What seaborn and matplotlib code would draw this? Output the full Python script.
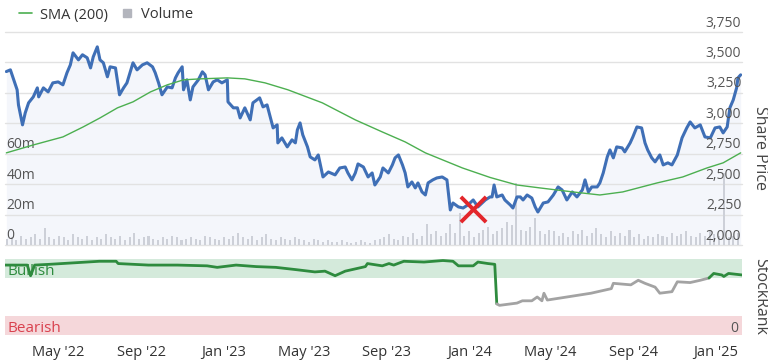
import numpy as np
import pandas as pd
import matplotlib
matplotlib.use("Agg")
import matplotlib.pyplot as plt
import matplotlib.dates as mdates
import matplotlib.transforms as mtransforms
from matplotlib.lines import Line2D
import seaborn as sns

# ---------------- data ----------------
price_dates = [
 "2022-02-13","2022-02-19","2022-02-23","2022-03-01","2022-03-03","2022-03-09","2022-03-13","2022-03-18",
 "2022-03-25","2022-03-31","2022-04-02","2022-04-09","2022-04-16","2022-04-23","2022-05-01","2022-05-08",
 "2022-05-14","2022-05-19","2022-05-23","2022-05-31","2022-06-06","2022-06-13","2022-06-18","2022-06-22",
 "2022-06-28","2022-07-02","2022-07-07","2022-07-13","2022-07-17","2022-07-25","2022-07-31","2022-08-06",
 "2022-08-11","2022-08-16","2022-08-20","2022-08-26","2022-09-03","2022-09-10","2022-09-18","2022-09-22",
 "2022-09-27","2022-10-02","2022-10-10","2022-10-17","2022-10-22","2022-10-26","2022-11-01","2022-11-03",
 "2022-11-08","2022-11-13","2022-11-17","2022-11-25","2022-12-01","2022-12-05","2022-12-10","2022-12-17",
 "2022-12-23","2022-12-30","2023-01-07","2023-01-08","2023-01-16","2023-01-22","2023-01-26","2023-02-02",
 "2023-02-10","2023-02-14","2023-02-24","2023-03-01","2023-03-07","2023-03-12","2023-03-16","2023-03-22",
 "2023-03-23","2023-03-29","2023-04-06","2023-04-13","2023-04-18","2023-04-21","2023-04-25","2023-04-29",
 "2023-05-06","2023-05-10","2023-05-17","2023-05-22","2023-05-29","2023-06-06","2023-06-16","2023-06-23",
 "2023-07-01","2023-07-05","2023-07-11","2023-07-16","2023-07-20","2023-07-28","2023-08-04","2023-08-10",
 "2023-08-14","2023-08-22","2023-08-26","2023-09-03","2023-09-09","2023-09-13","2023-09-18","2023-09-24",
 "2023-09-28","2023-10-02","2023-10-08","2023-10-13","2023-10-17","2023-10-23","2023-10-28","2023-11-01",
 "2023-11-08","2023-11-14","2023-11-22","2023-11-29","2023-12-04","2023-12-08","2023-12-16","2023-12-23",
 "2023-12-30","2024-01-07","2024-01-14","2024-01-25","2024-02-01","2024-02-04","2024-02-07","2024-02-11",
 "2024-02-19","2024-02-23","2024-03-02","2024-03-06","2024-03-12","2024-03-17","2024-03-21","2024-03-27",
 "2024-04-03","2024-04-08","2024-04-12","2024-04-20","2024-04-27","2024-05-05","2024-05-12","2024-05-18",
 "2024-05-25","2024-06-02","2024-06-09","2024-06-17","2024-06-21","2024-06-26","2024-07-01","2024-07-09",
 "2024-07-13","2024-07-18","2024-07-24","2024-07-28","2024-08-02","2024-08-07","2024-08-15","2024-08-19",
 "2024-08-27","2024-08-31","2024-09-06","2024-09-13","2024-09-18","2024-09-22","2024-09-28","2024-10-03",
 "2024-10-10","2024-10-15","2024-10-22","2024-10-28","2024-11-05","2024-11-12","2024-11-19","2024-11-24",
 "2024-12-01","2024-12-09","2024-12-16","2024-12-24","2024-12-31","2025-01-07","2025-01-12","2025-01-18",
 "2025-01-22","2025-01-27","2025-02-01","2025-02-03","2025-02-07"]
price_values = [
 3425,3439,3373,3275,3151,2987,3085,3168,
 3217,3291,3217,3291,3258,3332,3340,3316,
 3415,3480,3579,3521,3563,3538,3455,3546,
 3628,3521,3497,3382,3464,3455,3234,3291,
 3332,3423,3497,3439,3480,3497,3464,3415,
 3332,3234,3299,3291,3373,3415,3464,3275,
 3357,3192,3299,3357,3423,3398,3275,3340,
 3357,3332,3357,3176,3127,3127,3044,3127,
 3028,3168,3209,3135,3151,3044,2962,2987,
 2839,2880,2806,2864,2839,2946,3003,2905,
 2806,2724,2699,2740,2559,2600,2576,2633,
 2641,2592,2535,2592,2666,2641,2559,2592,
 2493,2559,2633,2592,2658,2716,2740,2658,
 2592,2477,2518,2469,2510,2436,2411,2510,
 2535,2551,2559,2535,2288,2345,2313,2304,
 2329,2370,2313,2370,2395,2395,2493,2395,
 2411,2370,2329,2304,2395,2395,2370,2411,
 2386,2313,2271,2345,2354,2411,2477,2452,
 2370,2436,2395,2452,2535,2436,2477,2477,
 2510,2592,2724,2781,2716,2806,2798,2765,
 2839,2888,2970,2962,2839,2781,2716,2683,
 2740,2658,2675,2658,2740,2880,2962,3011,
 2962,2987,2888,2880,2962,2970,2921,2970,
 3127,3192,3291,3373,3398]

sma_dates = ["2022-02-13","2022-03-25","2022-05-08","2022-06-07","2022-07-02","2022-07-28","2022-08-20",
             "2022-09-15","2022-10-10","2022-11-03","2022-11-28","2023-01-07","2023-02-02","2023-03-04",
             "2023-04-07","2023-05-28","2023-07-16","2023-08-25","2023-09-28","2023-10-28","2023-12-22",
             "2024-02-01","2024-03-12","2024-04-15","2024-06-03","2024-07-13","2024-08-16","2024-10-06",
             "2024-11-13","2024-12-19","2025-01-12","2025-02-07"]
sma_values = [2757,2822,2888,2970,3044,3127,3176,3258,3316,3357,3365,3373,3365,3332,3275,3168,3028,2929,
              2847,2757,2633,2555,2493,2469,2436,2411,2436,2510,2559,2633,2675,2757]

vol_start = "2022-02-14"   # weekly volume bars (millions)
vol_values = [
 4,5,3,6,4,5,7,4,11,5,
 4,6,5,3,7,5,4,6,3,5,
 4,7,5,4,6,3,5,8,4,5,
 6,4,3,5,4,6,5,3,4,5,
 4,3,6,5,4,3,5,4,6,8,
 5,4,6,3,5,7,4,3,5,4,
 3,5,4,3,2,4,3,2,3,2,
 2,3,2,1,2,3,2,1,3,4,
 5,7,4,3,6,5,8,4,6,14,
 7,9,6,8,14,8,21,6,9,5,
 8,10,12,7,9,11,15,13,41,10,
 9,12,18,9,7,10,9,6,8,5,
 9,7,10,6,8,11,7,5,9,6,
 8,6,10,5,7,4,6,5,7,6,
 5,8,6,7,9,6,5,8,6,9,
 7,6,47,5,6,8,7]

rank_dates = ["2022-02-11","2022-03-16","2022-03-21","2022-03-27","2022-04-18","2022-05-25","2022-07-01",
              "2022-07-26","2022-07-29","2022-09-12","2022-10-25","2022-12-08","2022-12-23","2023-01-20",
              "2023-02-19","2023-03-20","2023-04-19","2023-05-17","2023-06-01","2023-06-16","2023-07-01",
              "2023-07-31","2023-08-03","2023-08-25","2023-09-04","2023-09-11","2023-09-26","2023-10-26",
              "2023-11-23","2023-12-08","2023-12-16","2024-01-07","2024-01-14","2024-01-29","2024-02-08",
              "2024-02-11","2024-02-15","2024-03-12","2024-03-20","2024-04-03","2024-04-11","2024-04-18",
              "2024-04-21","2024-04-26","2024-05-25","2024-06-30","2024-07-30","2024-08-02","2024-08-28",
              "2024-09-08","2024-09-18","2024-10-03","2024-10-10","2024-10-28","2024-11-05","2024-11-24",
              "2024-12-09","2024-12-22","2024-12-29","2025-01-10","2025-01-13","2025-01-20","2025-02-09"]
rank_values = [92,92,78,92,93,95,97,97,94,92,92,91,89,92,90,89,86,83,84,78,84,90,94,91,94,92,97,96,98,97,
               91,91,96,94,93,41,39,42,45,45,50,45,55,46,50,55,61,68,66,72,68,63,55,57,70,69,72,75,81,
               79,77,81,79]

signal_date = ["2024-01-07"]
signal_price = [2296]

price_ticks = [2000, 2250, 2500, 2750, 3000, 3250, 3500, 3750]
vol_ticks = [0, 20, 40, 60]
vol_tick_labels = ["0", "20m", "40m", "60m"]
date_ticks = ["2022-05-01", "2022-09-01", "2023-01-01", "2023-05-01", "2023-09-01",
              "2024-01-01", "2024-05-01", "2024-09-01", "2025-01-01"]
date_tick_labels = ["May '22", "Sep '22", "Jan '23", "May '23", "Sep '23",
                    "Jan '24", "May '24", "Sep '24", "Jan '25"]
x_range = ["2022-02-11", "2025-02-09"]

# ---------------- style ----------------
sns.set_style("white")
plt.rcParams["font.family"] = ["Open Sans", "DejaVu Sans"]

BLUE = "#3f6fb6"
GREEN_SMA = "#4caf50"
VOL = "#cdd0d8"
FILL = "#f4f6fb"
GRID = "#e2e2e2"
TXT = "#555555"
RANK_G = "#2e8b3e"
RANK_GREY = "#a3a3a3"
NARROW = ["Liberation Sans Narrow", "Open Sans", "DejaVu Sans"]

pdates = pd.to_datetime(price_dates)
price_df = pd.DataFrame({"date": pdates, "price": price_values})
sma_df = pd.DataFrame({"date": pd.to_datetime(sma_dates), "sma": sma_values})
vdates = pd.date_range(vol_start, periods=len(vol_values), freq="7D")
rdates = pd.to_datetime(rank_dates)
xmin, xmax = pd.to_datetime(x_range)

W, H = 768, 361
fig = plt.figure(figsize=(W / 100, H / 100), dpi=100)
rect_top = [5 / W, (H - 245) / H, 737 / W, 213 / H]
rect_bot = [5 / W, (H - 335) / H, 737 / W, 76 / H]

ax_bg = fig.add_axes(rect_top)
ax_vol = fig.add_axes(rect_top, sharex=ax_bg)
ax = fig.add_axes(rect_top, sharex=ax_bg)
ax_r = fig.add_axes(rect_bot, sharex=ax_bg)

for a in (ax_vol, ax):
    a.patch.set_alpha(0)
for a in (ax_bg, ax_vol, ax, ax_r):
    for s in a.spines.values():
        s.set_visible(False)
    a.set_yticks([])
    a.tick_params(axis="x", which="both", length=0, labelbottom=False)

# background fill + gridlines (price coordinates)
ax_bg.set_ylim(price_ticks[0], price_ticks[-1])
ax_bg.fill_between(price_df["date"], price_df["price"], price_ticks[0], color=FILL, lw=0)
for t in price_ticks:
    ax_bg.axhline(t, color=GRID, lw=1, clip_on=False, zorder=1)

# volume bars
ax_vol.set_ylim(0, 140)
ax_vol.bar(vdates, vol_values, width=3.0, color=VOL, lw=0, align="center")

# price + SMA
ax.set_ylim(price_ticks[0], price_ticks[-1])
sns.lineplot(data=price_df, x="date", y="price", ax=ax, color=BLUE, lw=2.2, sort=False, zorder=3)
sns.lineplot(data=sma_df, x="date", y="sma", ax=ax, color=GREEN_SMA, lw=1.0, zorder=4)
ax.scatter(pd.to_datetime(signal_date), signal_price, marker="x", s=330, color="#e3262b",
           linewidths=2.8, zorder=6)
ax.set_xlabel(""); ax.set_ylabel("")
ax.set_xlim(xmin, xmax)

# price tick labels (inside, right) and volume labels (inside, left)
tr_r = mtransforms.blended_transform_factory(ax.transAxes, ax.transData)
for t in price_ticks:
    ax.text(0.999, t + 12, f"{t:,}", transform=tr_r, ha="right", va="bottom",
            fontsize=10, color=TXT, zorder=7)
tr_l = mtransforms.blended_transform_factory(ax_vol.transAxes, ax_vol.transData)
for t, lab in zip(vol_ticks, vol_tick_labels):
    ax_vol.text(0.002, t + 1.0, lab, transform=tr_l, ha="left", va="bottom",
                fontsize=10, color=TXT, zorder=7)

# ---------------- StockRank panel ----------------
ax_r.set_ylim(0, 100)
ax_r.axhspan(75, 100, color="#d4eadb", lw=0, zorder=0)
ax_r.axhspan(0, 25, color="#f5d7da", lw=0, zorder=0)
r = np.array(rank_values, dtype=float)
is_bull = r >= 74.5
start = 0
for i in range(1, len(r)):
    if i == len(r) - 1 or is_bull[i] != is_bull[start]:
        end = i
        seg = pd.DataFrame({"date": rdates[start:end + 1], "rank": r[start:end + 1]})
        sns.lineplot(data=seg, x="date", y="rank", ax=ax_r, sort=False,
                     color=RANK_G if is_bull[start] else RANK_GREY, lw=2.0, zorder=3)
        start = i
ax_r.set_xlabel(""); ax_r.set_ylabel("")
tr_rk = mtransforms.blended_transform_factory(ax_r.transAxes, ax_r.transData)
ax_r.text(0.004, 83, "Bullish", transform=tr_rk, ha="left", va="center", fontsize=11,
          color="#2e8b3e", family=NARROW)
ax_r.text(0.004, 9, "Bearish", transform=tr_rk, ha="left", va="center", fontsize=11,
          color="#d9414e", family=NARROW)
ax_r.text(0.995, 9, "0", transform=tr_rk, ha="right", va="center", fontsize=10, color=TXT)

ax_r.set_xticks(pd.to_datetime(date_ticks))
ax_r.set_xticklabels(date_tick_labels)
ax_r.tick_params(axis="x", which="both", length=6, width=1, color="#d5d5d5", labelbottom=True,
                 labelsize=10.5, labelcolor="#333333", pad=1)
for lab in ax_r.get_xticklabels():
    lab.set_fontfamily(NARROW)
ax_r.set_xlim(xmin, xmax)

# side titles
fig.text(760 / W, 1 - 148 / H, "Share Price", rotation=270, ha="center", va="center",
         fontsize=11.5, color="#444444")
fig.text(760 / W, 1 - 296 / H, "StockRank", rotation=270, ha="center", va="center",
         fontsize=11.5, color="#444444")

# legend
handles = [Line2D([], [], color=GREEN_SMA, lw=1.2),
           Line2D([], [], marker="s", ls="", color="#b3b5bd", markersize=6)]
fig.legend(handles, ["SMA (200)", "Volume"], loc="center left", bbox_to_anchor=(6 / W, 1 - 15 / H),
           ncol=2, frameon=False, fontsize=10.5, handlelength=0.9, handletextpad=0.5,
           columnspacing=0.9, labelcolor="#333333")

fig.savefig("out.png", dpi=100, facecolor="white")
